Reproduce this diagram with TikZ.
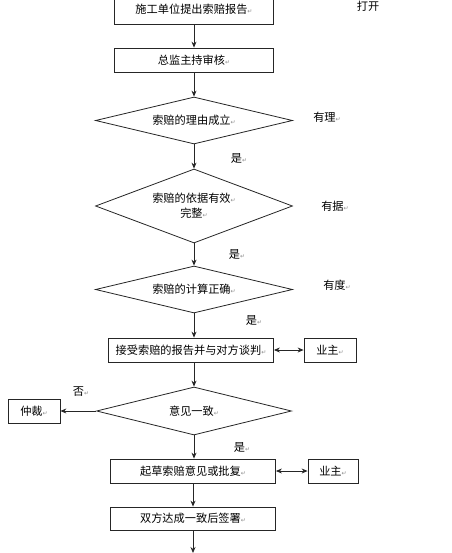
\documentclass[tikz,border=0pt]{standalone}
\usepackage{fontspec}
\setmainfont{Noto Sans CJK SC}
\newfontfamily\retfont{DejaVu Sans}
\usetikzlibrary{shapes.geometric,arrows.meta}

\newcommand{\retmark}{{\retfont\fontsize{6}{6}\selectfont\color{black!45}↵}}

\tikzset{
  stepbox/.style={draw=black!85,line width=0.8pt,rectangle,minimum height=24pt,inner sep=0pt},
  decision/.style={draw=black!85,line width=0.8pt,diamond,aspect=2.5,inner sep=0pt,minimum width=197pt},
  flow/.style={draw=black!85,line width=0.8pt,->,>={Stealth[length=6pt,width=5pt]}},
  twoway/.style={draw=black!85,line width=0.8pt,<->,>={Stealth[length=6pt,width=5pt]}},
  note/.style={inner sep=0pt}
}

\begin{document}
\begin{tikzpicture}[x=1pt,y=-1pt,font=\fontsize{11.2}{15}\selectfont]
  \clip (0,0) rectangle (451,553);
  \fill[white] (0,0) rectangle (451,553);

  % main column
  \node[stepbox,minimum width=159pt,minimum height=30pt] (report) at (194,9) {施工单位提出索赔报告\retmark};
  \node[stepbox,minimum width=159pt] (review) at (194,60) {总监主持审核\retmark};
  \node[decision,minimum height=47pt] (reason) at (194,120.5) {索赔的理由成立\retmark};
  \node[decision,minimum height=74pt,align=center] (basis) at (194,206) {索赔的依据有效\retmark\\完整\retmark};
  \node[decision,minimum height=47pt] (calc) at (194,289.5) {索赔的计算正确\retmark};
  \node[stepbox,minimum width=165pt] (talk) at (191,350) {接受索赔的报告并与对方谈判\retmark};
  \node[stepbox,minimum width=52pt] (owner1) at (330,350) {业主\retmark};
  \node[decision,minimum height=48pt,minimum width=195pt] (agree) at (194,411) {意见一致\retmark};
  \node[stepbox,minimum width=52pt] (arbit) at (34,411) {仲裁\retmark};
  \node[stepbox,minimum width=165pt] (draft) at (193,471) {起草索赔意见或批复\retmark};
  \node[stepbox,minimum width=50pt] (owner2) at (333,471) {业主\retmark};
  \node[stepbox,minimum width=165pt,minimum height=23pt] (sign) at (193,518.5) {双方达成一致后签署\retmark};
  \coordinate (out) at (193,553);

  % side notes
  \node[note] (open) at (368,6) {打开};
  \node[note] (why) at (327,117) {有理\retmark};
  \node[note] (proof) at (335,206) {有据\retmark};
  \node[note] (degree) at (337,285) {有度\retmark};
  \node[note] (yes1) at (239,158) {是\retmark};
  \node[note] (yes2) at (237,254) {是\retmark};
  \node[note] (yes3) at (254,320) {是\retmark};
  \node[note] (no) at (81,392) {否\retmark};
  \node[note] (yes4) at (242,447) {是\retmark};

  % connectors
  \draw[flow] (report) -- (review);
  \draw[flow] (review) -- (reason);
  \draw[flow] (reason) -- (basis);
  \draw[flow] (basis) -- (calc);
  \draw[flow] (calc.south) -- (calc.south |- talk.north);
  \draw[twoway] (talk) -- (owner1);
  \draw[flow] (talk.south -| agree.north) -- (agree);
  \draw[flow] (agree) -- (arbit);
  \draw[flow] (agree.south) -- (agree.south |- draft.north);
  \draw[twoway] (draft) -- (owner2);
  \draw[flow] (draft) -- (sign);
  \draw[flow] (sign) -- (out);
\end{tikzpicture}
\end{document}
